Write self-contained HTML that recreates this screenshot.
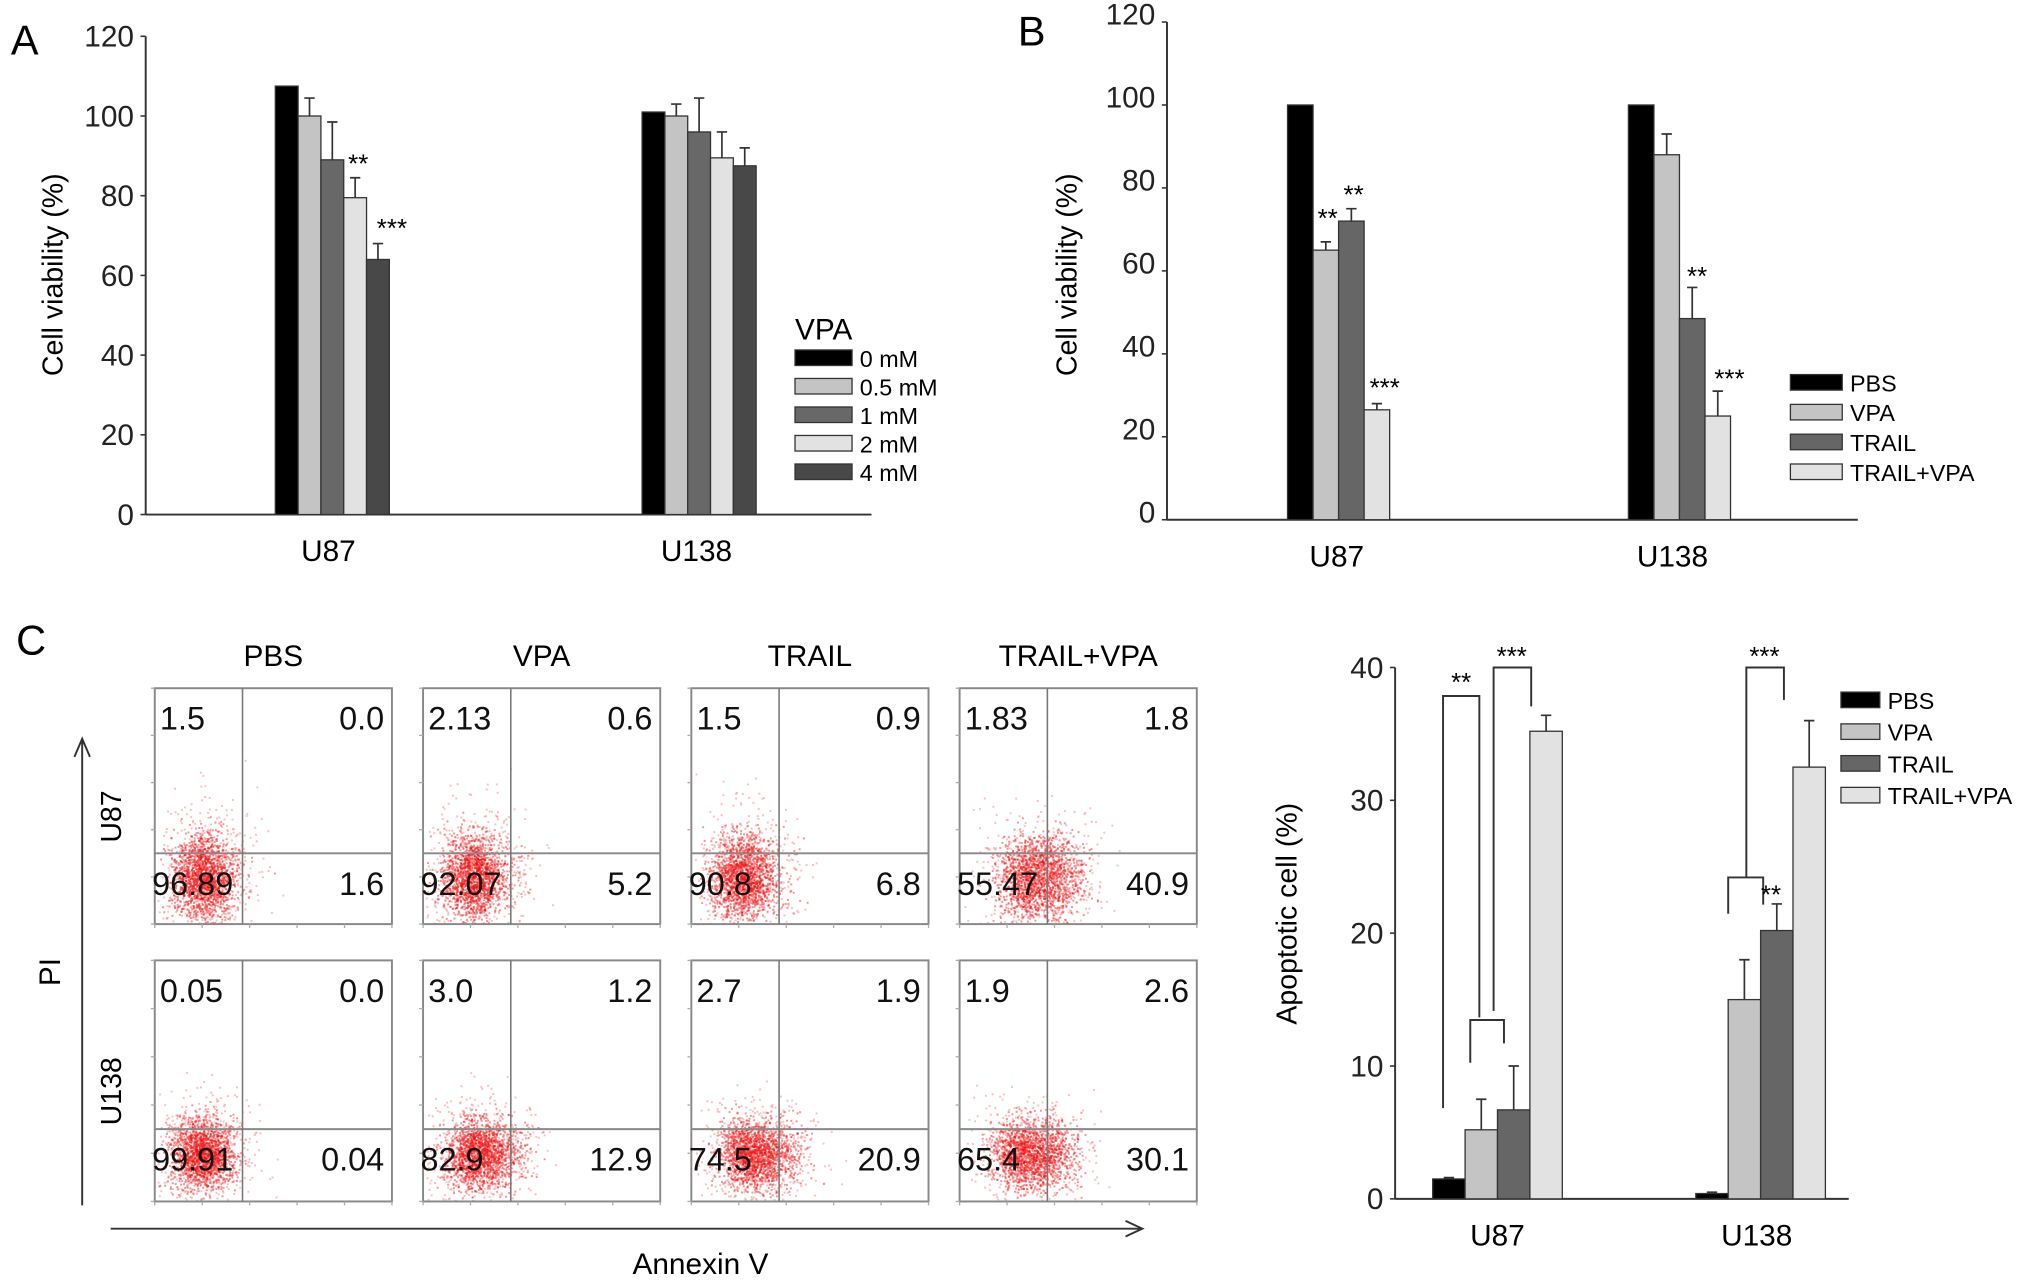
<!DOCTYPE html>
<html><head><meta charset="utf-8"><style>
html,body{margin:0;padding:0;background:#fff;}
svg{display:block;font-family:"Liberation Sans",Arial,sans-serif;}
</style></head><body>
<svg id="fig" width="2032" height="1287" viewBox="0 0 1567 993" xmlns="http://www.w3.org/2000/svg">
<rect width="1567" height="993" fill="#fff"/>
<text x="8" y="42" font-size="32">A</text>
<text x="785" y="35" font-size="32">B</text>
<text x="12" y="505" font-size="32">C</text>
<g id="gA"></g>
<g id="gB"></g>
<g id="gC"></g>
<g id="gF"></g>
</svg>
<script>
// Panel A data
const aGroups = ["U87","U138"];
const aSeries = ["0 mM","0.5 mM","1 mM","2 mM","4 mM"];
const aValues = [[107.5,101],[100,100],[89,96],[79.5,89.5],[64,87.5]];
const aErrors = [[0,0],[4.5,3],[9.5,8.5],[5,6.5],[4,4.5]];
const aTicks = [0,20,40,60,80,100,120];
const aColors = ["#000","#c4c4c4","#686868","#e2e2e2","#484848"];
// Panel B data
const bGroups = ["U87","U138"];
const bSeries = ["PBS","VPA","TRAIL","TRAIL+VPA"];
const bValues = [[100,100],[65,88],[72,48.5],[26.5,25]];
const bErrors = [[0,0],[2,5],[3,7.5],[1.5,6]];
const bTicks = [0,20,40,60,80,100,120];
// Panel C data
const cGroups = ["U87","U138"];
const cSeries = ["PBS","VPA","TRAIL","TRAIL+VPA"];
const cValues = [[1.5,0.4],[5.2,15],[6.7,20.2],[35.2,32.5]];
const cErrors = [[0.1,0.1],[2.3,3],[3.3,2],[1.2,3.5]];
const cTicks = [0,10,20,30,40];
const bColors = ["#000","#c4c4c4","#666","#e2e2e2"];
// Flow cytometry quadrant values [UL, UR, LL, LR]
const flowCols = ["PBS","VPA","TRAIL","TRAIL+VPA"];
const flowRows = ["U87","U138"];
const flowQuad = [
 [["1.5","0.0","96.89","1.6"],["2.13","0.6","92.07","5.2"],["1.5","0.9","90.8","6.8"],["1.83","1.8","55.47","40.9"]],
 [["0.05","0.0","99.91","0.04"],["3.0","1.2","82.9","12.9"],["2.7","1.9","74.5","20.9"],["1.9","2.6","65.4","30.1"]]
];

const NS="http://www.w3.org/2000/svg";
function mk(parent,tag,attrs,text){const e=document.createElementNS(NS,tag);for(const k in attrs)e.setAttribute(k,attrs[k]);if(text!==undefined)e.textContent=text;parent.appendChild(e);return e;}

function barChart(g,o){
  const y=v=>o.y0-(v/o.ymax)*(o.y0-o.ytop);
  let ax=mk(g,'line',{x1:o.x0,y1:y(o.ymax),x2:o.x0,y2:o.y0,stroke:'#333','stroke-width':1.5});
  
  
  let xx=mk(g,'line',{x1:o.x0,y1:o.y0,x2:o.x1,y2:o.y0,stroke:'#333','stroke-width':1.5});
  
  
  o.ticks.forEach(t=>{
    const tl=mk(g,'line',{x1:o.x0-4,y1:y(t),x2:o.x0,y2:y(t),stroke:'#333','stroke-width':1.2});
    
    
    const tx=mk(g,'text',{x:o.x0-9,y:y(t)+8+(o.tickDy||0),'font-size':23,'text-anchor':'end',fill:'#222'},String(t));
    
    
  });
  const yt=mk(g,'text',{x:0,y:0,'font-size':22,'text-anchor':'middle',transform:`translate(${o.ylx},${o.yly}) rotate(-90)`},o.ytitle);
  
  
  o.groups.forEach((gname,gi)=>{
    const gl=mk(g,'text',{x:o.gcx[gi],y:o.y0+36,'font-size':23,'text-anchor':'middle'},gname);
    
    
    o.series.forEach((s,si)=>{
      const v=o.values[si][gi];
      const bx=o.gstart[gi]+si*o.bw;
      const r=mk(g,'rect',{x:bx,y:y(v),width:o.bw,height:o.y0-y(v),fill:o.colors[si],stroke:'#333','stroke-width':1});
      
      
      const e=o.errors[si][gi];
      if(e>0){
        const cx=bx+o.bw/2;
        const el=mk(g,'path',{d:`M${cx},${y(v)} V${y(v+e)} M${cx-4},${y(v+e)} H${cx+4}`,stroke:'#333','stroke-width':1.3,fill:'none'});
        
        
      }
    });
  });
  if(o.legTitle){const lt=mk(g,'text',{x:o.legX,y:o.legY-14,'font-size':23},o.legTitle);
    
    }
  o.series.forEach((s,si)=>{
    const ly=o.legY+si*o.legStep;
    const lb=mk(g,'rect',{x:o.legX,y:ly-6,width:o.legW,height:12,fill:o.colors[si],stroke:'#333','stroke-width':1});
    
    
    const lx=mk(g,'text',{x:o.legX+o.legW+6,y:ly+7,'font-size':o.legFont||18},s);
    
    
  });
  return y;
}
function star(g,x,yy,t){const s=mk(g,'text',{x:x,y:yy,'font-size':20,'text-anchor':'middle'},t);
  
  }

const gA=document.getElementById('gA');
const yA=barChart(gA,{x0:112,x1:672,y0:397,ytop:28,ymax:120,ticks:aTicks,groups:aGroups,series:aSeries,values:aValues,errors:aErrors,colors:aColors,
 gstart:[212,495],bw:17.6,gcx:[253,537],ylx:48,yly:212,ytitle:"Cell viability (%)",legTitle:"VPA",legX:613,legY:276,legStep:22,legW:44,legFont:18});
star(gA,276,133,"**");star(gA,302,183,"***");

const gB=document.getElementById('gB');
const yB=barChart(gB,{x0:900,x1:1433,y0:401,ytop:17,ymax:120,ticks:bTicks,tickDy:-6,groups:bGroups,series:bSeries,values:bValues,errors:bErrors,colors:bColors,
 gstart:[993,1256],bw:19.7,gcx:[1031,1290],ylx:830,yly:212,ytitle:"Cell viability (%)",legX:1381,legY:295,legStep:23,legW:40,legFont:18});
star(gB,1024,175,"**");star(gB,1044,157,"**");star(gB,1068,306,"***");star(gB,1309,220,"**");star(gB,1334,299,"***");

const gC=document.getElementById('gC');
const yC=barChart(gC,{x0:1076,x1:1426,y0:925,ytop:515,ymax:40,ticks:cTicks,groups:cGroups,series:cSeries,values:cValues,errors:cErrors,colors:bColors,
 gstart:[1105,1308],bw:25,gcx:[1155,1355],ylx:1000,yly:705,ytitle:"Apoptotic cell (%)",legX:1420,legY:540,legStep:24.5,legW:30,legFont:18});
function br(d){const p=mk(gC,'path',{d:d,stroke:'#333','stroke-width':1.5,fill:'none'});
  
  }
br("M1113,855 V537 H1141 V785");
br("M1134,820 V787 H1160 V805");
br("M1152,780 V515 H1181 V545");
br("M1333,705 V677 H1360 V698");
br("M1347,677 V515 H1376 V540");
star(gC,1127,533,"**");star(gC,1166,513,"***");star(gC,1361,513,"***");star(gC,1366,697,"**");

// Flow cytometry grid
const gF=document.getElementById('gF');
const colX=[119,326,533,740], pw=183;
const rowY=[[531,713],[741,927]];
const hFrac=[0.70,0.70], vFrac=0.37;
let seed=7;function rnd(){seed=(seed*16807)%2147483647;return seed/2147483647;}
function gauss(){return (rnd()+rnd()+rnd()+rnd()-2)/2;}
flowCols.forEach((c,ci)=>{
  const h=mk(gF,'text',{x:colX[ci]+pw/2,y:514,'font-size':23,'text-anchor':'middle'},c);
  
  
});
flowRows.forEach((r,ri)=>{
  const [t,b]=rowY[ri];
  const rl=mk(gF,'text',{x:0,y:0,'font-size':22,'text-anchor':'middle',transform:`translate(${93},${(t+b)/2+8}) rotate(-90)`},r);
  
  
  flowCols.forEach((c,ci)=>{
    const x=colX[ci], w=pw, h=b-t;
    const hy=t+h*hFrac[ri], vx=x+w*vFrac;
    const q=flowQuad[ri][ci];
    const lr=parseFloat(q[3]);
    const grp=mk(gF,'g',{});
    
    
    const n=2200;
    const dense=ri===0?1:0.8;
    for(let i=0;i<n;i++){
      const spread=(i%4===0)?1.8:1;
      let cx=x+w*(0.2+lr/500)+gauss()*w*0.22*spread+(rnd()<lr/100?w*0.12:0);
      let cy=b-h*0.2+gauss()*h*0.30*spread*dense;
      if(cx<x+2||cx>x+w-2||cy<t+2||cy>b-1)continue;
      mk(grp,'rect',{x:cx,y:cy,width:1.5,height:1.5,fill:(spread>1?'#f58080':'#f01010'),opacity:(spread>1?0.5:0.45)});
    }
    mk(grp,'rect',{x:x,y:t,width:w,height:h,fill:'none',stroke:'#888','stroke-width':1.5});
    mk(grp,'line',{x1:x,y1:hy,x2:x+w,y2:hy,stroke:'#888','stroke-width':1.5});
    mk(grp,'line',{x1:vx,y1:t,x2:vx,y2:b,stroke:'#777','stroke-width':1.2});
    for(let k=0;k<6;k++){mk(grp,'line',{x1:x+k*w/5,y1:b,x2:x+k*w/5,y2:b+3,stroke:'#aaa','stroke-width':1});
      mk(grp,'line',{x1:x-3,y1:t+k*h/5,x2:x,y2:t+k*h/5,stroke:'#aaa','stroke-width':1});}
    const fs=25;
    [[x+4,t+32,'start',0],[x+w-6,t+32,'end',1],[x-2,hy+32,'start',2],[x+w-6,hy+32,'end',3]].forEach(([tx,ty,an,qi])=>{
      const e=mk(grp,'text',{x:tx,y:ty,'font-size':fs,'text-anchor':an,fill:'#111'},q[qi]);
      
      
    });
  });
});
const pa=mk(gF,'path',{d:"M63,930 V572 M57,584 L63,570 L69,584",stroke:'#333','stroke-width':1.5,fill:'none'});


const pl=mk(gF,'text',{x:0,y:0,'font-size':23,'text-anchor':'middle',transform:'translate(46,750) rotate(-90)'},'PI');


const aa=mk(gF,'path',{d:"M85,948 H880 M868,942 L881,948 L868,954",stroke:'#333','stroke-width':1.5,fill:'none'});


const al=mk(gF,'text',{x:540,y:983,'font-size':23,'text-anchor':'middle'},'Annexin V');


</script>
</body></html>
